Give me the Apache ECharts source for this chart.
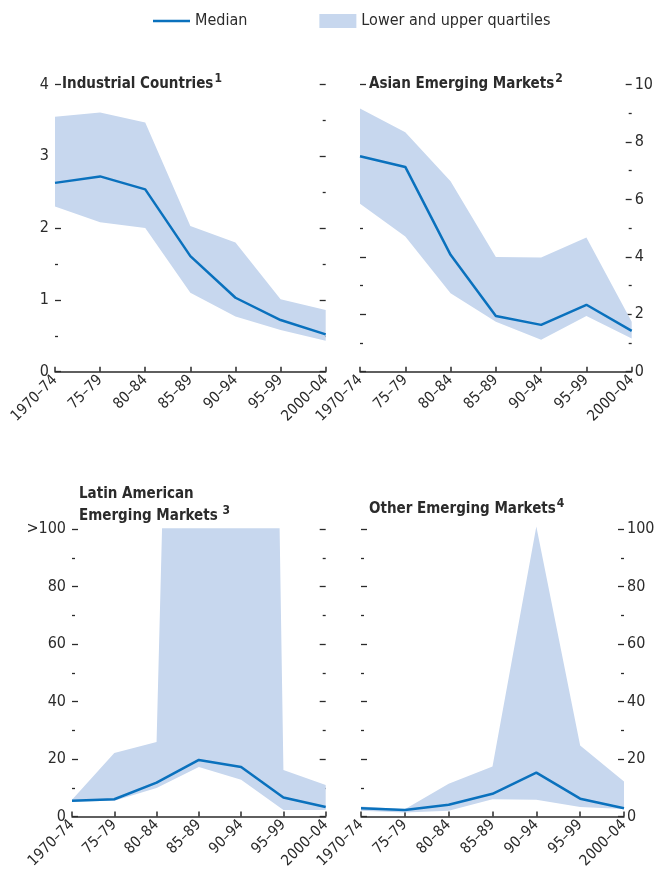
<!DOCTYPE html>
<html>
<head>
<meta charset="utf-8">
<script src="https://cdn.jsdelivr.net/npm/echarts@6/dist/echarts.min.js"></script>
<style>
html,body{margin:0;padding:0;background:#fff}
#chart{width:659px;height:884px}
</style>
</head>
<body>
<div id="chart"></div>
<script>
var periods = ['1970–74', '75–79', '80–84', '85–89', '90–94', '95–99', '2000–04'];

// industrial countries
var indMedian = [2.63, 2.72, 2.54, 1.61, 1.03, 0.72, 0.52];
var indLower = [2.30, 2.08, 2.00, 1.10, 0.77, 0.58, 0.43];
var indUpper = [3.55, 3.61, 3.47, 2.03, 1.80, 1.01, 0.86];
// asian emerging markets
var asiaMedian = [7.50, 7.13, 4.07, 1.94, 1.63, 2.33, 1.42];
var asiaLower = [5.85, 4.71, 2.73, 1.74, 1.11, 1.94, 1.16];
var asiaUpper = [9.16, 8.34, 6.63, 3.99, 3.98, 4.67, 1.74];
// latin american emerging markets (upper quartile goes off the scale, >100)
var latMedian = [5.5, 6.0, 11.8, 19.7, 17.2, 6.6, 3.3];
var latLower = [5.2, 5.5, 9.9, 17.2, 12.8, 2.3, 2.3];
var latUpper = [5.8, 22.1, 25.9, 600, 950, 16.2, 11.0];
// other emerging markets
var othMedian = [2.9, 2.3, 4.1, 7.9, 15.3, 6.2, 2.9];
var othLower = [2.0, 1.4, 2.0, 6.0, 5.8, 3.3, 2.6];
var othUpper = [3.5, 2.5, 11.4, 17.4, 101, 24.7, 12.2];

var ink = '#2b2b2b';
var blue = '#0a71bd';
var band = '#c7d7ee';
var font = '"Liberation Sans Narrow", "DejaVu Sans Condensed", "Roboto", sans-serif';

var panels = [
  {left: 55, top: 84.5, width: 270.7, max: 4, interval: 1, labelSide: 'left',
   med: indMedian, lo: indLower, hi: indUpper, clip: true},
  {left: 360, top: 84.5, width: 271.7, max: 10, interval: 2, labelSide: 'right',
   med: asiaMedian, lo: asiaLower, hi: asiaUpper, clip: true},
  {left: 72, top: 529.3, width: 253.7, max: 100, interval: 20, labelSide: 'left',
   med: latMedian, lo: latLower, hi: latUpper, clip: true,
   fmt: function (v) { return v === 100 ? '>100' : v; }},
  {left: 361, top: 529.3, width: 263, max: 100, interval: 20, labelSide: 'right',
   med: othMedian, lo: othLower, hi: othUpper, clip: false}
];

var grids = [], xAxes = [], yAxes = [], series = [];

panels.forEach(function (p, i) {
  grids.push({left: p.left, top: p.top, width: p.width, height: 287.2});
  xAxes.push({
    type: 'category', gridIndex: i, data: periods, boundaryGap: false,
    axisLine: {lineStyle: {color: ink, width: 1.5}},
    axisTick: {show: true, inside: true, length: 5, interval: 0, lineStyle: {color: ink, width: 1.5}},
    axisLabel: {rotate: 45, interval: 0, margin: 6, color: ink, fontFamily: font, fontSize: 15}
  });
  ['left', 'right'].forEach(function (side) {
    var showLab = side === p.labelSide;
    yAxes.push({
      type: 'value', gridIndex: i, position: side, min: 0, max: p.max, interval: p.interval,
      axisLine: {show: false}, splitLine: {show: false},
      axisTick: {show: true, inside: true, length: 6, lineStyle: {color: ink, width: 1.3}},
      minorTick: {show: true, splitNumber: 2, length: 3, lineStyle: {color: ink, width: 1.3}},
      axisLabel: {show: showLab, margin: side === 'left' ? 6 : 3, color: ink,
        fontFamily: font, fontSize: 16, formatter: p.fmt}
    });
  });
  var yi = i * 2;
  series.push({
    name: 'lo' + i, type: 'line', xAxisIndex: i, yAxisIndex: yi, stack: 'q' + i,
    data: p.lo, symbol: 'none', lineStyle: {opacity: 0}, silent: true, clip: p.clip
  });
  series.push({
    name: 'Lower and upper quartiles', type: 'line', xAxisIndex: i, yAxisIndex: yi, stack: 'q' + i,
    data: p.hi.map(function (v, k) { return v - p.lo[k]; }),
    symbol: 'none', color: band, itemStyle: {color: band},
    lineStyle: {opacity: 0}, areaStyle: {color: band, opacity: 1}, silent: true, clip: p.clip
  });
  series.push({
    name: 'Median', type: 'line', xAxisIndex: i, yAxisIndex: yi, data: p.med,
    symbol: 'none', color: blue, lineStyle: {color: blue, width: 2.5}, silent: true
  });
});

var titleRich = {
  t: {fontFamily: font, fontWeight: 'bold', fontSize: 15, color: ink, lineHeight: 22},
  s: {fontFamily: font, fontWeight: 'bold', fontSize: 12, color: ink, verticalAlign: 'top', padding: [0, 0, 8, 1]}
};

var chart = echarts.init(document.getElementById('chart'));
chart.setOption({
  animation: false,
  backgroundColor: '#fff',
  legend: {
    top: 8, left: 148, itemWidth: 37, itemHeight: 14, itemGap: 72, selectedMode: false,
    symbolKeepAspect: true,
    textStyle: {fontFamily: font, fontSize: 16, color: ink},
    data: [
      {name: 'Median', icon: 'path://M0,0H37V2.5H0Z', itemStyle: {color: blue}},
      {name: 'Lower and upper quartiles', icon: 'rect', itemStyle: {color: band}}
    ]
  },
  title: [
    {left: 62, top: 73, padding: 0, text: '{t|Industrial Countries}{s|1}', textStyle: {rich: titleRich}},
    {left: 369, top: 73, padding: 0, text: '{t|Asian Emerging Markets}{s|2}', textStyle: {rich: titleRich}},
    {left: 79, top: 483, padding: 0, text: '{t|Latin American}\n{t|Emerging Markets}{s| 3}', textStyle: {rich: titleRich}},
    {left: 369, top: 498, padding: 0, text: '{t|Other Emerging Markets}{s|4}', textStyle: {rich: titleRich}}
  ],
  grid: grids,
  xAxis: xAxes,
  yAxis: yAxes,
  series: series
});
</script>
</body>
</html>
